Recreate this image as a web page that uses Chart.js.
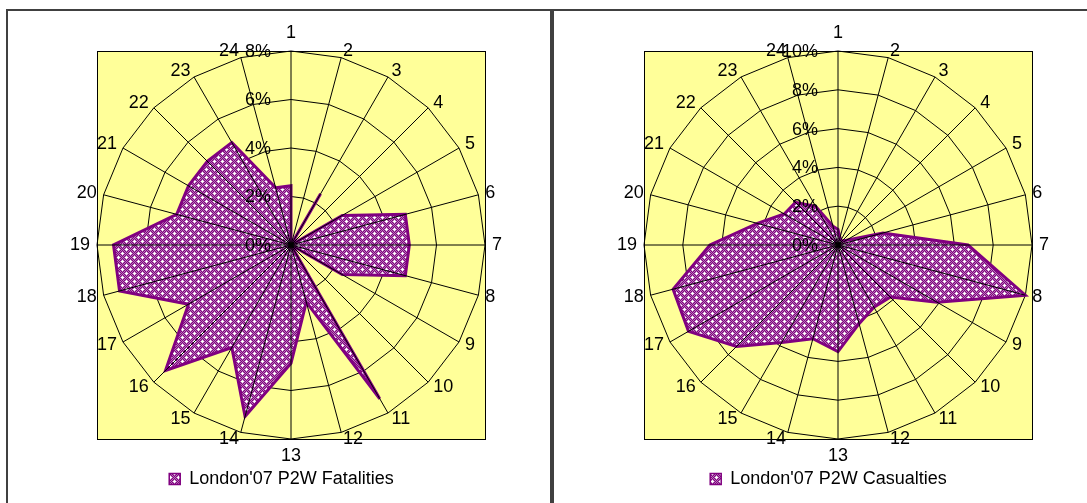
<!DOCTYPE html>
<html>
<head>
<meta charset="utf-8">
<script src="https://cdn.jsdelivr.net/npm/chart.js@4.4.0/dist/chart.umd.min.js"></script>
<style>
  html, body { margin: 0; padding: 0; background: #fff; overflow: hidden; width: 1087px; height: 503px; }
  .box { position: absolute; top: 9px; width: 542px; height: 520px; border: 2px solid #404040; border-bottom: none; }
  #boxL { left: 6px; }
  #boxR { left: 552px; }
  canvas { position: absolute; left: 0; top: 0; }
</style>
</head>
<body>
<div class="box" id="boxL"><canvas id="fatalChart" width="540" height="492" style="width:540px;height:492px"></canvas></div>
<div class="box" id="boxR"><canvas id="casualChart" width="540" height="492" style="width:540px;height:492px"></canvas></div>
<script>
// hour of day (spokes, clockwise from top)
const hours = ['1','2','3','4','5','6','7','8','9','10','11','12','13','14','15','16','17','18','19','20','21','22','23','24'];

// share of P2W fatalities by hour, %
const fatalities = [2.44, 0, 2.44, 0, 2.44, 4.88, 4.88, 4.88, 2.44, 0, 7.32, 2.44,
                    4.88, 7.32, 4.88, 7.32, 4.88, 7.32, 7.32, 4.88, 4.88, 4.88, 4.88, 2.44];
// share of P2W casualties by hour, %
const casualties = [0.8, 0.4, 0.3, 0.3, 0.5, 2.4, 6.7, 10.0, 5.9, 3.8, 3.7, 4.2,
                    5.5, 5.0, 5.8, 7.4, 8.9, 8.8, 6.6, 4.3, 3.2, 3.1, 2.3, 1.0];

const fatalTicks = ['0%', '2%', '4%', '6%', '8%'];
const casualTicks = ['0%', '2%', '4%', '6%', '8%', '10%'];

const FONT = "'Liberation Sans', Arial, sans-serif";
Chart.defaults.font.family = FONT;
Chart.defaults.font.size = 18;
Chart.defaults.color = '#000';

// excel style purple fill with white dots
function makePattern() {
  const c = document.createElement('canvas');
  c.width = 8; c.height = 8;
  const g = c.getContext('2d');
  g.fillStyle = '#800080';
  g.fillRect(0, 0, 8, 8);
  g.fillStyle = '#b878b8';
  for (let y = 0; y < 8; y++) {
    for (let x = 0; x < 8; x++) {
      if ((x + y) % 2 === 0) g.fillRect(x, y, 1, 1);
    }
  }
  g.fillStyle = '#ffffff';
  [[2, 2], [6, 6]].forEach(([x, y]) => {
    g.fillRect(x - 1, y, 3, 1);
    g.fillRect(x, y - 1, 1, 3);
  });
  return g.createPattern(c, 'repeat');
}

// yellow plot square, spokes over the fill, hour labels and % labels drawn the excel way
const radarDecor = {
  id: 'radarDecor',
  beforeDatasetsDraw(chart) {},
  beforeDraw(chart) {
    const { ctx } = chart;
    const r = chart.scales.r;
    const s = r.drawingArea;
    ctx.save();
    ctx.fillStyle = '#ffff99';
    ctx.fillRect(r.xCenter - s, r.yCenter - s, 2 * s, 2 * s);
    ctx.strokeStyle = '#000';
    ctx.lineWidth = 1;
    ctx.strokeRect(r.xCenter - s + 0.5, r.yCenter - s + 0.5, 2 * s, 2 * s);
    ctx.restore();
  },
  afterDatasetsDraw(chart) {
    const { ctx } = chart;
    const r = chart.scales.r;
    ctx.save();
    ctx.strokeStyle = '#000';
    ctx.lineWidth = 1;
    chart.data.labels.forEach((lab, i) => {
      const p = r.getPointPosition(i, r.drawingArea);
      ctx.beginPath();
      ctx.moveTo(r.xCenter, r.yCenter);
      ctx.lineTo(p.x, p.y);
      ctx.stroke();
    });
    ctx.restore();
  },
  afterDraw(chart) {
    const { ctx } = chart;
    const r = chart.scales.r;
    const n = chart.data.labels.length;
    ctx.save();
    ctx.font = '18px ' + FONT;
    ctx.fillStyle = '#000';
    ctx.textBaseline = 'middle';
    chart.data.labels.forEach((lab, i) => {
      const deg = i * 360 / n;
      const p = r.getPointPosition(i, r.drawingArea + 7);
      let y = p.y;
      if (deg === 0) { ctx.textAlign = 'center'; y -= 10.5; }
      else if (deg === 180) { ctx.textAlign = 'center'; y += 10.5; }
      else ctx.textAlign = deg < 180 ? 'left' : 'right';
      ctx.fillText(lab, p.x, y);
    });
    ctx.textAlign = 'right';
    r.ticks.forEach(t => {
      const y = r.yCenter - r.getDistanceFromCenterForValue(t.value);
      ctx.fillText(t.label, r.xCenter - 20, y + 1);
    });
    ctx.restore();
  }
};

function makeRadar(id, label, values, tickLabels, maxVal, pad) {
  const pattern = makePattern();
  return new Chart(document.getElementById(id), {
    type: 'radar',
    data: {
      labels: hours,
      datasets: [{
        label: label,
        data: values,
        borderColor: '#800080',
        borderWidth: 3,
        backgroundColor: pattern,
        pointRadius: 0,
        pointHoverRadius: 0,
        fill: 'origin'
      }]
    },
    options: {
      responsive: false,
      animation: false,
      events: [],
      layout: { padding: pad },
      scales: {
        r: {
          min: 0,
          max: maxVal,
          // excel puts the legend a little left of the plot centre
          afterFit: (scale) => { scale.xCenter += 10; },
          ticks: {
            stepSize: 2,
            display: false,
            callback: (v, i) => tickLabels[i]
          },
          pointLabels: { display: false },
          grid: { color: '#000', lineWidth: 1, circular: false },
          angleLines: { display: false }
        }
      },
      plugins: {
        tooltip: { enabled: false },
        legend: {
          position: 'bottom',
          labels: {
            boxWidth: 11,
            boxHeight: 11,
            padding: 30,
            font: { size: 18 },
            generateLabels(chart) {
              const items = Chart.defaults.plugins.legend.labels.generateLabels(chart);
              items.forEach(it => { it.lineWidth = 1.5; });
              return items;
            }
          }
        }
      }
    },
    plugins: [radarDecor]
  });
}

makeRadar('fatalChart', "London'07 P2W Fatalities", fatalities, fatalTicks, 8,
  { left: 79, top: 40, right: 72, bottom: 5 });
makeRadar('casualChart', "London'07 P2W Casualties", casualties, casualTicks, 10,
  { left: 80, top: 40, right: 71, bottom: 5 });
</script>
</body>
</html>
